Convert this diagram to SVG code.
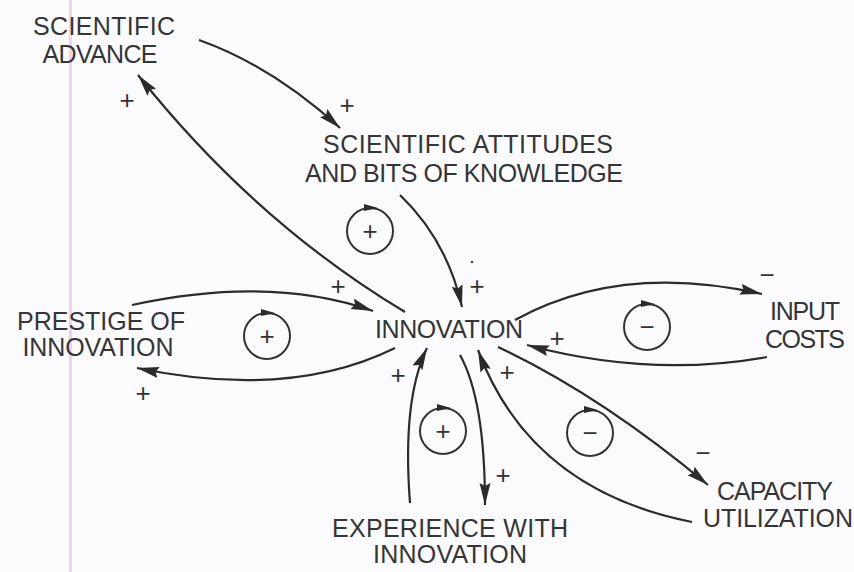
<svg xmlns="http://www.w3.org/2000/svg" width="854" height="572" viewBox="0 0 854 572">
<defs>
<marker id="ah" markerUnits="userSpaceOnUse" markerWidth="24" markerHeight="12" refX="22" refY="5.5" orient="auto">
<path d="M0,0 L22,5.5 L0,11 L3,5.5 Z" fill="#2b2b2b"/>
</marker>
<style>
.lbl{font-family:"Liberation Sans",Arial,sans-serif;font-size:25px;fill:#353535;text-anchor:middle}
.sg{font-family:"Liberation Sans",Arial,sans-serif;font-size:26px;fill:#333;text-anchor:middle}
.cn{fill:none;stroke:#2b2b2b;stroke-width:2.2;marker-end:url(#ah)}
.loop{fill:none;stroke:#333;stroke-width:2}
.la{fill:#2b2b2b}
</style>
</defs>
<rect width="854" height="572" fill="#fbfbfd"/>
<line x1="70.5" y1="0" x2="70.5" y2="572" stroke="#efd3ea" stroke-width="3"/>

<g id="connectors">
<path class="cn" d="M199,40 Q272,66 340,128"/>
<path class="cn" d="M405,312 Q255,222 138,75"/>
<path class="cn" d="M400,195 Q447,240 462,307"/>
<path class="cn" d="M132,305 Q270,275 373,311"/>
<path class="cn" d="M395,348 Q290,400 137,368"/>
<path class="cn" d="M515,320 Q620,262 762,294"/>
<path class="cn" d="M767,357 Q650,378 527,345"/>
<path class="cn" d="M410,503 Q402,400 427,348"/>
<path class="cn" d="M460,355 Q485,400 485,505"/>
<path class="cn" d="M498,347 Q600,395 708,485"/>
<path class="cn" d="M692,522 Q530,490 478,350"/>
</g>

<g id="polarities">
<text class="sg" x="127" y="109">+</text>
<text class="sg" x="347" y="114">+</text>
<text class="sg" x="477" y="295">+</text>
<circle cx="472" cy="262" r="1.3" fill="#444"/>
<text class="sg" x="338" y="295">+</text>
<text class="sg" x="143" y="402">+</text>
<text class="sg" x="398" y="384">+</text>
<text class="sg" x="503" y="484">+</text>
<text class="sg" x="507" y="381">+</text>
<text class="sg" x="557" y="347">+</text>
<text class="sg" x="767" y="284">−</text>
<text class="sg" x="703" y="462">−</text>
</g>

<g id="loop-r1">
<circle class="loop" cx="370" cy="231" r="23"/>
<path class="la" d="M364,204 L378,208 L364,211 Z"/>
<text class="sg" x="370" y="240">+</text>
</g>
<g id="loop-r2">
<circle class="loop" cx="267" cy="336" r="23"/>
<path class="la" d="M261,309 L275,313 L261,316 Z"/>
<text class="sg" x="267" y="345">+</text>
</g>
<g id="loop-r3">
<circle class="loop" cx="443" cy="431" r="23"/>
<path class="la" d="M437,404 L451,408 L437,411 Z"/>
<text class="sg" x="443" y="440">+</text>
</g>
<g id="loop-b1">
<circle class="loop" cx="647" cy="327" r="23"/>
<path class="la" d="M641,300 L655,304 L641,307 Z"/>
<text class="sg" x="647" y="336">−</text>
</g>
<g id="loop-b2">
<circle class="loop" cx="590" cy="433" r="23"/>
<path class="la" d="M584,406 L598,410 L584,413 Z"/>
<text class="sg" x="590" y="442">−</text>
</g>

<g id="node-scientific-advance">
<text class="lbl" x="104" y="35" textLength="142">SCIENTIFIC</text>
<text class="lbl" x="100" y="63" textLength="115">ADVANCE</text>
</g>
<g id="node-scientific-attitudes">
<text class="lbl" x="468" y="153" textLength="290">SCIENTIFIC ATTITUDES</text>
<text class="lbl" x="464" y="182" textLength="318">AND BITS OF KNOWLEDGE</text>
</g>
<g id="node-prestige">
<text class="lbl" x="101" y="330" textLength="168">PRESTIGE OF</text>
<text class="lbl" x="98" y="356" textLength="151">INNOVATION</text>
</g>
<g id="node-innovation">
<text class="lbl" x="449" y="338" textLength="148">INNOVATION</text>
</g>
<g id="node-input-costs">
<text class="lbl" x="805" y="320" textLength="70">INPUT</text>
<text class="lbl" x="805" y="348" textLength="80">COSTS</text>
</g>
<g id="node-capacity">
<text class="lbl" x="775" y="500" textLength="116">CAPACITY</text>
<text class="lbl" x="778" y="527" textLength="150">UTILIZATION</text>
</g>
<g id="node-experience">
<text class="lbl" x="450" y="537" textLength="236">EXPERIENCE WITH</text>
<text class="lbl" x="450" y="563" textLength="154">INNOVATION</text>
</g>
</svg>
